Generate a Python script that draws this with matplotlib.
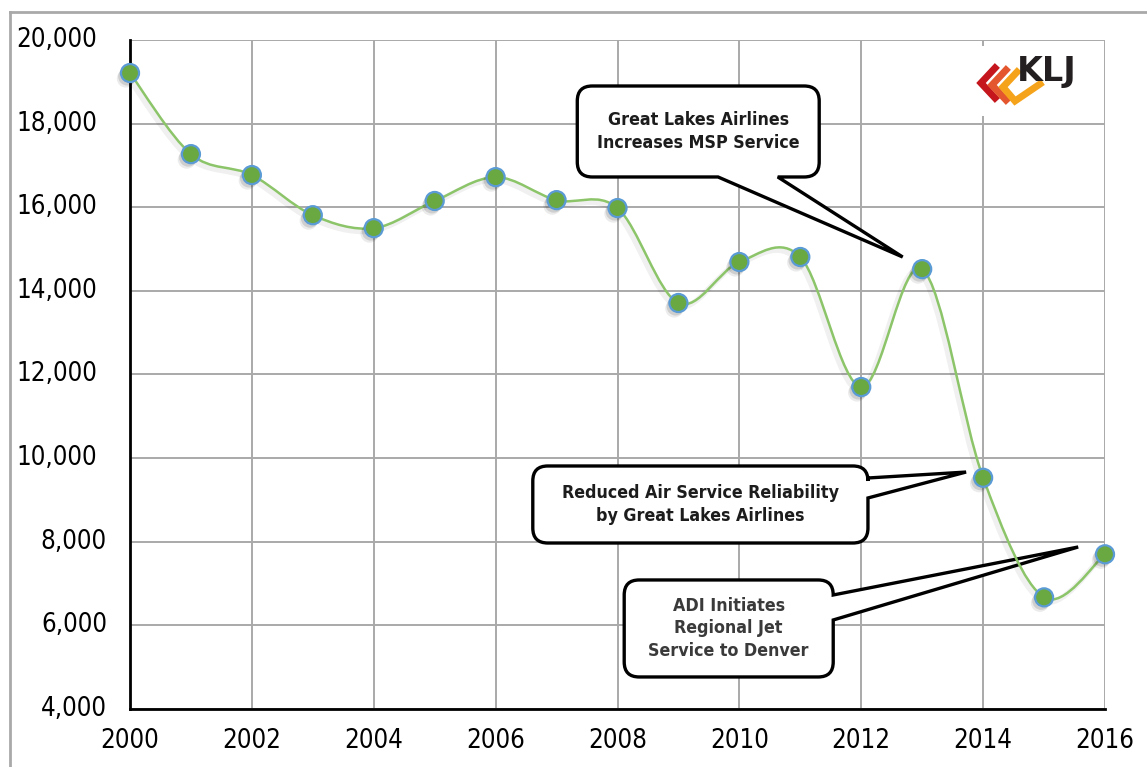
import numpy as np
import matplotlib
matplotlib.use('Agg')
import matplotlib.pyplot as plt
import matplotlib.transforms as mtransforms
import matplotlib.patheffects as pe
from matplotlib.path import Path
from matplotlib.patches import PathPatch, Rectangle
from matplotlib.lines import Line2D

# data
years = list(range(2000, 2017))
enplanements = [19210, 17270, 16770, 15810, 15500, 16150, 16720, 16170, 15980,
                13710, 14690, 14810, 11700, 14520, 9530, 6670, 7700]

x_ticks = list(range(2000, 2017, 2))
y_ticks = list(range(4000, 20001, 2000))

callout_texts = ['Great Lakes Airlines\nIncreases MSP Service',
                 'Reduced Air Service Reliability\nby Great Lakes Airlines',
                 'ADI Initiates\nRegional Jet\nService to Denver']
callout_boxes = [(2007.34, 2011.31, 16724, 18900),
                 (2006.61, 2012.11, 7970, 9812),
                 (2008.11, 2011.54, 4766, 7086)]
callout_sides = ['bottom', 'right', 'right']
callout_bases = [(2009.65, 2010.63), (9525, 9047), (6727, 6129)]
callout_tips = [(2012.68, 14810), (2013.72, 9667), (2015.56, 7875)]
callout_colors = ['#1c1c1c', '#1c1c1c', '#3a3a3a']

W, H = 1147, 767
TICKFONT = dict(family='DejaVu Sans', stretch='condensed', fontsize=18.5)

fig = plt.figure(figsize=(W / 100, H / 100), dpi=100)
ax = fig.add_axes([130 / W, (H - 709) / H, 975 / W, 669 / H])
ax.set_xlim(2000, 2016)
ax.set_ylim(4000, 20000)

ax.set_xticks(x_ticks)
ax.set_yticks(y_ticks)
ax.set_yticklabels([])
ax.set_xticklabels([str(x) for x in x_ticks], **TICKFONT)
ax.tick_params(axis='both', length=0)
ax.tick_params(axis='x', pad=14)
ax.grid(True, color='#a9a9a9', lw=1.4)
ax.set_axisbelow(True)
for s in ['top', 'right']:
    ax.spines[s].set_visible(False)
for s in ['left', 'bottom']:
    ax.spines[s].set_linewidth(2)
    ax.spines[s].set_color('black')
    ax.spines[s].set_zorder(2.6)

# y labels (Excel leaves the shorter ones sitting further right)
ylab_tr = mtransforms.blended_transform_factory(ax.transAxes, ax.transData)
for v in y_ticks:
    right_px = 97 if v >= 10000 else 107
    ax.text((right_px - 130) / 975, v, f'{v:,}', transform=ylab_tr, ha='right',
            va='center', clip_on=False, **TICKFONT)


# smoothed line like Excel's
def smooth_path(xs, ys):
    pts = np.column_stack([xs, ys]).astype(float)
    n = len(pts)
    verts = [pts[0]]
    codes = [Path.MOVETO]
    for i in range(n - 1):
        p0 = pts[max(i - 1, 0)]
        p1 = pts[i]
        p2 = pts[i + 1]
        p3 = pts[min(i + 2, n - 1)]
        verts += [p1 + (p2 - p0) / 6, p2 - (p3 - p1) / 6, p2]
        codes += [Path.CURVE4] * 3
    return Path(verts, codes)


curve = PathPatch(smooth_path(years, enplanements), fill=False, edgecolor='#8cc569',
                  lw=1.8, zorder=3)
curve.set_path_effects([pe.SimpleLineShadow(offset=(-2, -2), shadow_color='k', alpha=0.06,
                                            linewidth=4),
                        pe.Normal()])
ax.add_patch(curve)

ax.plot(years, enplanements, linestyle='none', marker='o', markersize=13,
        markerfacecolor='#6aa842', markeredgecolor='#5b9bd5', markeredgewidth=1.6,
        zorder=4, clip_on=False,
        path_effects=[pe.SimplePatchShadow(offset=(-3, -4), shadow_rgbFace='k', alpha=0.08),
                      pe.SimplePatchShadow(offset=(-2, -2.5), shadow_rgbFace='k', alpha=0.12),
                      pe.Normal()])


# callouts
def callout_path(x0, y0, x1, y1, r, side, b0, b1, tip):
    M, L, C = Path.MOVETO, Path.LINETO, Path.CURVE3
    v = [(x0 + r, y1), (x1 - r, y1), (x1, y1), (x1, y1 - r)]
    c = [M, L, C, C]
    if side == 'right':
        v += [(x1, b0), tip, (x1, b1)]
        c += [L, L, L]
    v += [(x1, y0 + r), (x1, y0), (x1 - r, y0)]
    c += [L, C, C]
    if side == 'bottom':
        v += [(b1, y0), tip, (b0, y0)]
        c += [L, L, L]
    v += [(x0 + r, y0), (x0, y0), (x0, y0 + r), (x0, y1 - r), (x0, y1), (x0 + r, y1), (x0 + r, y1)]
    c += [L, C, C, L, C, C, Path.CLOSEPOLY]
    return Path(v, c)


td = ax.transData
for txt, box, side, base, tip, col in zip(callout_texts, callout_boxes, callout_sides,
                                          callout_bases, callout_tips, callout_colors):
    bx0, bx1, by0, by1 = box
    (x0, y0), (x1, y1) = td.transform([(bx0, by0), (bx1, by1)])
    tpx = tuple(td.transform([tip])[0])
    if side == 'right':
        b0 = td.transform([(bx1, base[0])])[0][1]
        b1 = td.transform([(bx1, base[1])])[0][1]
    else:
        b0 = td.transform([(base[0], by0)])[0][0]
        b1 = td.transform([(base[1], by0)])[0][0]
    p = PathPatch(callout_path(x0, y0, x1, y1, 15, side, b0, b1, tpx),
                  transform=mtransforms.IdentityTransform(), facecolor='white',
                  edgecolor='black', lw=2.4, joinstyle='miter', zorder=2.8)
    ax.add_artist(p)
    ax.text((bx0 + bx1) / 2, (by0 + by1) / 2, txt, ha='center', va='center',
            fontsize=12.8, fontweight='bold', family='DejaVu Sans', stretch='condensed',
            color=col, linespacing=1.3, zorder=5)

# pixel transform for the frame and logo (y from top)
pix = mtransforms.Affine2D().scale(1, -1).translate(0, H)

fig.add_artist(Line2D([10, W], [12, 12], transform=pix, color='#a9a9a9', lw=2))
fig.add_artist(Line2D([10, 10], [12, H], transform=pix, color='#a9a9a9', lw=2))

# KLJ logo
fig.add_artist(Rectangle((962, 46), 140, 70, transform=pix, facecolor='white',
                         edgecolor='none', zorder=5))
chevrons = [([995, 981, 995], [68, 83, 98], '#c4161c'),
            ([1006, 992, 1006], [70, 85, 100], '#e4572e'),
            ([1017, 1003, 1015, 1040], [72, 87, 101, 84], '#f5a31a')]
for xs, ys, c in chevrons:
    fig.add_artist(Line2D(xs, ys, transform=pix, color=c, lw=5,
                          solid_joinstyle='miter', zorder=6))
fig.text(1017 / W, 1 - 72 / H, 'KLJ', fontsize=24, fontweight='bold', color='#231f20',
         ha='left', va='center', zorder=7)

fig.savefig('out.png', dpi=100)
